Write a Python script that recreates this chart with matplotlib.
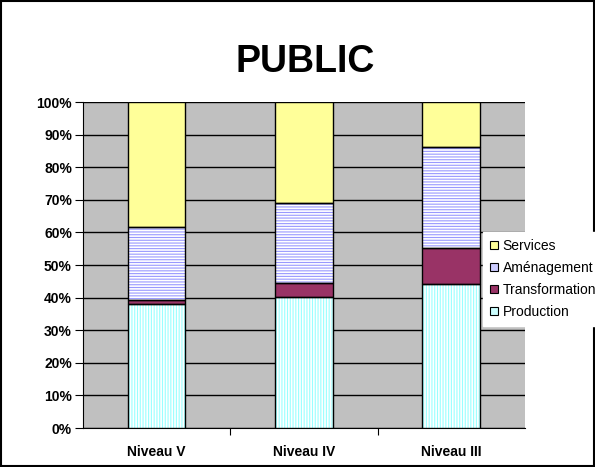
import matplotlib.pyplot as plt
import matplotlib.patches as mpatches
import numpy as np

categories = ['Niveau V', 'Niveau IV', 'Niveau III']
production = [38.0, 40.1, 44.2]
transformation = [1.2, 4.3, 10.9]
amenagement = [22.5, 24.7, 31.0]
services = [38.3, 30.9, 13.9]

# name, values, face colour, hatch colour, hatch, legend swatch colour
series = [
    ('Production', production, 'white', '#99ffff', '||||||', '#ccffff'),
    ('Transformation', transformation, '#993366', None, None, '#993366'),
    ('Aménagement', amenagement, 'white', '#9999ff', '------', '#ccccff'),
    ('Services', services, '#ffff99', None, None, '#ffff99'),
]

plt.rcParams['font.family'] = ['Liberation Sans', 'DejaVu Sans']
plt.rcParams['hatch.linewidth'] = 0.8

fig = plt.figure(figsize=(5.95, 4.67), dpi=100)
ax = fig.add_axes([0.1395, 0.0835, 0.7425, 0.698])
ax.set_facecolor('#c0c0c0')

x = np.arange(len(categories))
width = 0.39
bottom = np.zeros(len(categories))
leg_handles = []
for name, vals, fc, hc, hatch, sw in series:
    vals = np.array(vals)
    if hatch:
        ax.bar(x, vals, width, bottom=bottom, color=fc, edgecolor=hc,
               hatch=hatch, linewidth=0, zorder=3)
    else:
        ax.bar(x, vals, width, bottom=bottom, color=fc, linewidth=0, zorder=3)
    ax.bar(x, vals, width, bottom=bottom, fill=False, edgecolor='black',
           linewidth=1.0, zorder=4)
    leg_handles.append(mpatches.Patch(facecolor=sw, edgecolor='black',
                                      linewidth=0.8, label=name))
    bottom += vals

ax.set_xlim(-0.5, 2.5)
ax.set_ylim(0, 100)
ax.set_yticks(np.arange(0, 101, 10))
ax.set_yticklabels([f'{v}%' for v in range(0, 101, 10)], fontsize=10, fontweight='bold')
ax.yaxis.grid(True, color='black', linewidth=1.0, zorder=1)
ax.set_axisbelow(True)

ax.set_xticks(x)
ax.set_xticklabels(categories, fontsize=10, fontweight='bold')
ax.tick_params(axis='x', length=0, pad=12)
ax.set_xticks([0.5, 1.5], minor=True)
ax.tick_params(axis='x', which='minor', length=5, width=0.8, direction='out')
ax.tick_params(axis='y', length=6, width=0.8, direction='out', pad=2)

for s in ['top', 'right']:
    ax.spines[s].set_visible(False)
ax.spines['left'].set_linewidth(0.8)
ax.spines['bottom'].set_linewidth(0.8)

fig.text(0.513, 0.868, 'PUBLIC', ha='center', va='center', fontsize=27, fontweight='bold')

fig.patches.append(mpatches.Rectangle((0.002, 0.003), 0.996, 0.994, transform=fig.transFigure,
                                      fill=False, edgecolor='black', linewidth=1.5))

leg = fig.legend(handles=leg_handles[::-1], loc='upper left',
                 bbox_to_anchor=(0.8118, 0.503), frameon=True, fontsize=10,
                 handlelength=0.55, handleheight=0.55, handletextpad=0.36,
                 labelspacing=0.58, borderpad=0.5, borderaxespad=0)
leg.get_frame().set_edgecolor('white')
leg.get_frame().set_facecolor('white')
leg.get_frame().set_alpha(1)
leg.get_frame().set_boxstyle('square', pad=0)
leg.set_zorder(10)

fig.savefig('out.png', dpi=100)
